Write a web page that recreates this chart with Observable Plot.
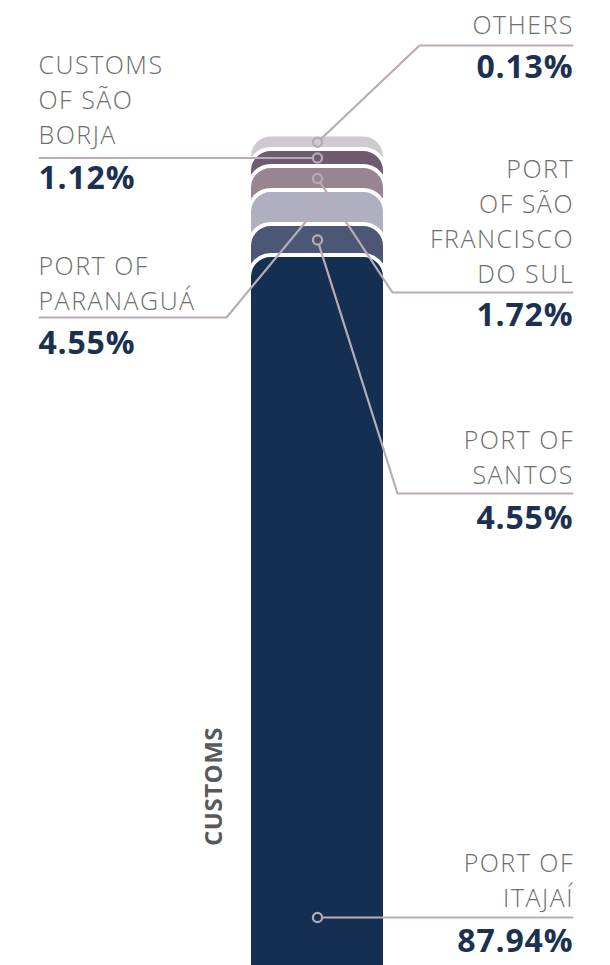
<!DOCTYPE html>
<html>
<head>
<meta charset="utf-8">
<script src="https://cdn.jsdelivr.net/npm/d3@7"></script>
<script src="https://cdn.jsdelivr.net/npm/@observablehq/plot@0.6"></script>
<style>
  html, body { margin: 0; padding: 0; background: #ffffff; }
  #wrap { position: relative; width: 610px; height: 965px; overflow: hidden; background: #ffffff; }
  #wrap svg { position: absolute; left: 0; top: 0; }
</style>
</head>
<body>
<div id="wrap"></div>
<script>
// ---------------- data ----------------
const categories = ["CUSTOMS"];
// stacked from the bottom of the bar to the top
const ports = [
  "PORT OF\nITAJAÍ",
  "PORT OF\nSANTOS",
  "PORT OF\nPARANAGUÁ",
  "PORT\nOF SÃO\nFRANCISCO\nDO SUL",
  "CUSTOMS\nOF SÃO\nBORJA",
  "OTHERS"
];
const shares = [87.94, 4.55, 4.55, 1.72, 1.12, 0.13];

// ---------------- styles / layout ----------------
const colors = ["#152f52", "#4b5775", "#b0afc2", "#978594", "#6f5b70", "#d1c9d1"];
const W = 610, H = 965;
// drawn thickness (px) of each segment: a broken scale that keeps the small shares visible
const segmentPx = [745, 31, 34, 24, 17, 14.5];
const barBottomPx = 1000;           // the bar runs off the bottom edge
// annotation placement (px), same order as ports
const labelLayout = [
  {side: "right", nameY: 906,   pctY: 951.5, ruleY: 917},
  {side: "right", nameY: 483.5, pctY: 528,   ruleY: 493, elbowX: 397},
  {side: "left",  nameY: 309.5, pctY: 353.5, ruleY: 317, elbowX: 226},
  {side: "right", nameY: 282,   pctY: 325,   ruleY: 292, elbowX: 392},
  {side: "left",  nameY: 143,   pctY: 188},
  {side: "right", nameY: 33,    pctY: 77,    ruleY: 45,  elbowX: 419}
];
const rightX = 572, leftX = 39;
const groupLabelPos = {x: 214, y: 786};
const nameLetterSpacing = 1.5, pctLetterSpacing = 0.8;

// ---------------- bar chart ----------------
const tops = Array.from(d3.cumsum(shares));
const displayTops = Array.from(d3.cumsum(segmentPx));
const rows = ports.map((name, i) => ({
  group: categories[0], name, share: shares[i], y1: 0, y2: tops[i], lo: tops[i] - shares[i]
}));
// piecewise share -> display units (broken axis)
const broken = d3.scaleLinear().domain([0, ...tops]).range([0, ...displayTops]);
const displayMax = displayTops[displayTops.length - 1];

const bars = Plot.plot({
  width: W, height: H,
  marginLeft: 249, marginRight: 225, marginTop: 0, marginBottom: 0,
  style: {background: "transparent", overflow: "visible"},
  x: {domain: categories, padding: 0, axis: null},
  y: {type: "linear", transform: broken, domain: [0, displayMax], range: [barBottomPx, barBottomPx - displayMax], axis: null},
  color: {domain: ports, range: colors},
  marks: [
    Plot.barY(rows.slice().reverse(), {
      x: "group", y1: "y1", y2: "y2", fill: "name",
      stroke: "#ffffff", strokeWidth: 4, rx: 22
    })
  ]
});

// ---------------- annotations (anchored through the bar chart's scales) ----------------
const xs = bars.scale("x"), ys = bars.scale("y"), cs = bars.scale("color");
const yPx = v => ys.apply(broken(v));
const cx = xs.apply(categories[0]) + xs.bandwidth / 2;
const fmt = d3.format(".2f");

const leader = [], anchors = [], labels = [];
rows.forEach((r, i) => {
  const L = labelLayout[i];
  const mid = (yPx(r.lo) + yPx(r.y2)) / 2;
  const ay = (L.elbowX == null && L.ruleY != null) ? L.ruleY : mid;
  const ry = L.ruleY != null ? L.ruleY : ay;
  const ex = L.side === "right" ? rightX : leftX;
  leader.push({x: cx, y: ay, id: i});
  if (L.elbowX != null) leader.push({x: L.elbowX, y: ry, id: i});
  leader.push({x: ex, y: ry, id: i});
  anchors.push({x: cx, y: ay, fill: cs.apply(r.name)});
  labels.push({side: L.side, x: ex, nameY: L.nameY, pctY: L.pctY, name: r.name, pct: fmt(r.share) + "%"});
});

const nameStyle = {fontFamily: "Open Sans", fontWeight: 300, fontSize: 25, fill: "#6e6e6e", lineHeight: 1.39, lineAnchor: "bottom"};
const pctStyle = {fontFamily: "Open Sans", fontWeight: 700, fontSize: 32, fill: "#1b3152", lineAnchor: "bottom"};

const notes = Plot.plot({
  width: W, height: H, margin: 0,
  style: {background: "transparent", overflow: "visible"},
  x: {type: "identity", axis: null},
  y: {type: "identity", axis: null},
  color: {type: "identity"},
  marks: [
    Plot.line(leader, {x: "x", y: "y", z: "id", stroke: "#b8acb8", strokeWidth: 2.2}),
    Plot.dot(anchors, {x: "x", y: "y", r: 4.6, fill: "fill", stroke: "#b6aab6", strokeWidth: 2.2}),
    Plot.text(labels.filter(d => d.side === "right"), {x: "x", y: "nameY", text: "name", textAnchor: "end", dx: nameLetterSpacing, ...nameStyle}),
    Plot.text(labels.filter(d => d.side === "left"), {x: "x", y: "nameY", text: "name", textAnchor: "start", dx: -1, ...nameStyle}),
    Plot.text(labels.filter(d => d.side === "right"), {x: "x", y: "pctY", text: "pct", textAnchor: "end", dx: pctLetterSpacing, ...pctStyle}),
    Plot.text(labels.filter(d => d.side === "left"), {x: "x", y: "pctY", text: "pct", textAnchor: "start", dx: -1, ...pctStyle}),
    Plot.text([{x: groupLabelPos.x, y: groupLabelPos.y, t: categories[0]}], {
      x: "x", y: "y", text: "t", rotate: -90, textAnchor: "middle", lineAnchor: "middle",
      fontFamily: "Open Sans", fontWeight: 700, fontSize: 24, fill: "#595959"
    })
  ]
});

// wide lettering (marks 2-3: port names, 4-5: shares, 6: group label)
const markGroups = Array.from(notes.children).filter(el => el.tagName.toLowerCase() === "g");
const spacing = {2: nameLetterSpacing, 3: nameLetterSpacing, 4: pctLetterSpacing, 5: pctLetterSpacing, 6: 0.5};
Object.entries(spacing).forEach(([k, s]) => {
  if (markGroups[k]) markGroups[k].querySelectorAll("text").forEach(t => t.style.letterSpacing = s + "px");
});

const wrap = document.getElementById("wrap");
wrap.appendChild(bars);
wrap.appendChild(notes);
</script>
</body>
</html>
